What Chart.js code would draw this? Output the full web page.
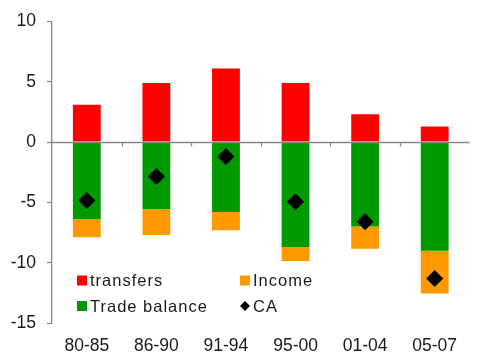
<!DOCTYPE html>
<html>
<head>
<meta charset="utf-8">
<script src="https://cdn.jsdelivr.net/npm/chart.js@4/dist/chart.umd.min.js"></script>
<style>
  html, body { margin: 0; padding: 0; background: #ffffff; }
  #wrap { width: 478px; height: 354px; position: relative; }
</style>
</head>
<body>
<div id="wrap"><canvas id="c" width="478" height="354"></canvas></div>
<script>
// Current account decomposition, % of GDP, period averages
const periods = ['80-85', '86-90', '91-94', '95-00', '01-04', '05-07'];
const transfers = [3.1, 4.9, 6.1, 4.9, 2.3, 1.3];
const tradeBalance = [-6.4, -5.55, -5.8, -8.7, -7.0, -9.0];
const income = [-1.5, -2.15, -1.5, -1.15, -1.85, -3.55];
const currentAccount = [-4.85, -2.85, -1.2, -4.95, -6.6, -11.3];
const yTicks = [10, 5, 0, -5, -10, -15];

const AXIS_GREY = '#868686';
const FONT = "'Liberation Sans', Arial, sans-serif";

// zero line across the plot plus short separators between categories
const zeroAxis = {
  id: 'zeroAxis',
  afterDatasetsDraw(chart) {
    const { ctx, chartArea, scales } = chart;
    const y0 = Math.round(scales.y.getPixelForValue(0)) + 0.5;
    ctx.save();
    ctx.strokeStyle = AXIS_GREY;
    ctx.lineWidth = 1.3;
    ctx.beginPath();
    ctx.moveTo(chartArea.left, y0);
    ctx.lineTo(chartArea.right, y0);
    const n = periods.length;
    const step = (chartArea.right - chartArea.left) / n;
    for (let i = 1; i < n; i++) {
      const x = Math.round(chartArea.left + i * step) + 0.5;
      ctx.moveTo(x, y0);
      ctx.lineTo(x, y0 + 4);
    }
    ctx.stroke();
    ctx.restore();
  }
};

// two-column legend inside the plot, lower left
const insideLegend = {
  id: 'insideLegend',
  afterDraw(chart) {
    const { ctx, chartArea } = chart;
    const ds = chart.data.datasets;
    const byLabel = l => ds.find(d => d.label === l);
    const items = [
      { label: 'transfers', col: 0, row: 0 },
      { label: 'Income', col: 1, row: 0 },
      { label: 'Trade balance', col: 0, row: 1 },
      { label: 'CA', col: 1, row: 1 }
    ];
    const colX = [chartArea.left + 25, chartArea.left + 188];
    const rowY = [280.5, 306];
    ctx.save();
    ctx.font = '16.5px ' + FONT;
    ctx.textBaseline = 'middle';
    ctx.textAlign = 'left';
    ctx.fillStyle = '#1a1a1a';
    if ('letterSpacing' in ctx) ctx.letterSpacing = '1px';
    items.forEach(it => {
      const d = byLabel(it.label);
      const x = colX[it.col];
      const y = rowY[it.row];
      if (d.type === 'line') {
        ctx.fillStyle = '#000000';
        ctx.beginPath();
        ctx.moveTo(x + 5, y - 5);
        ctx.lineTo(x + 10, y);
        ctx.lineTo(x + 5, y + 5);
        ctx.lineTo(x, y);
        ctx.closePath();
        ctx.fill();
      } else {
        ctx.fillStyle = d.backgroundColor;
        ctx.fillRect(x, y - 5, 10, 10);
      }
      ctx.fillStyle = '#1a1a1a';
      ctx.fillText(it.label, x + 13, y + 1);
    });
    ctx.restore();
  }
};

new Chart(document.getElementById('c'), {
  data: {
    labels: periods,
    datasets: [
      { type: 'bar', label: 'transfers', data: transfers, backgroundColor: '#ff0000', stack: 'ca', order: 1 },
      { type: 'bar', label: 'Trade balance', data: tradeBalance, backgroundColor: '#009900', stack: 'ca', order: 1 },
      { type: 'bar', label: 'Income', data: income, backgroundColor: '#ff9900', stack: 'ca', order: 1 },
      {
        type: 'line', label: 'CA', data: currentAccount, stack: 'total', order: 0,
        showLine: false, pointStyle: 'rectRot', pointRadius: 8.5, pointHoverRadius: 8.5,
        backgroundColor: '#000000', borderColor: '#000000', borderWidth: 0
      }
    ]
  },
  options: {
    responsive: false,
    animation: false,
    events: [],
    layout: { padding: { top: 20, right: 1, left: 0, bottom: 0 } },
    datasets: { bar: { barPercentage: 0.4, categoryPercentage: 1.0 } },
    plugins: { legend: { display: false }, tooltip: { enabled: false } },
    scales: {
      x: {
        stacked: true,
        offset: true,
        grid: { display: false, drawTicks: false },
        border: { display: false },
        ticks: { color: '#1a1a1a', font: { family: FONT, size: 17.5 }, padding: 13, maxRotation: 0 },
        afterFit: s => { s.height = 31; }
      },
      y: {
        stacked: true,
        min: -15,
        max: 10,
        afterBuildTicks: s => { s.ticks = yTicks.map(v => ({ value: v })); },
        grid: { drawOnChartArea: false, drawTicks: true, tickLength: 5, tickColor: AXIS_GREY, tickWidth: 1.3 },
        border: { display: true, color: AXIS_GREY, width: 1.3 },
        ticks: { color: '#1a1a1a', font: { family: FONT, size: 17.5 }, padding: 11 },
        afterFit: s => { s.width = 52; }
      }
    }
  },
  plugins: [zeroAxis, insideLegend]
});
</script>
</body>
</html>
